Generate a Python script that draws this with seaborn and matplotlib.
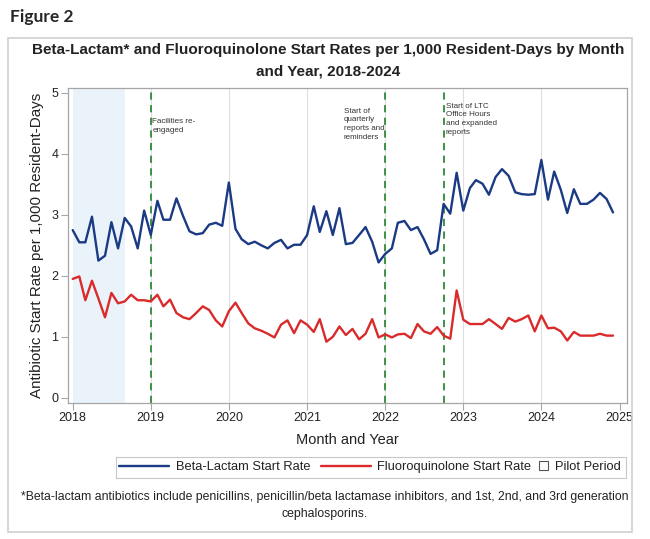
import numpy as np
import pandas as pd
import seaborn as sns
import matplotlib.pyplot as plt
import matplotlib.dates as mdates
from matplotlib.lines import Line2D
from matplotlib.patches import Patch, Rectangle

# monthly start rates per 1,000 resident-days, Jan 2018 - Dec 2024
beta_lactam = [2.75, 2.55, 2.55, 2.97, 2.25, 2.33, 2.88, 2.45, 2.95, 2.81, 2.45, 3.07,
               2.67, 3.23, 2.92, 2.92, 3.27, 2.98, 2.73, 2.68, 2.70, 2.84, 2.87, 2.82,
               3.53, 2.77, 2.60, 2.52, 2.56, 2.50, 2.45, 2.54, 2.59, 2.45, 2.51, 2.51,
               2.67, 3.14, 2.72, 3.06, 2.67, 3.11, 2.52, 2.54, 2.67, 2.80, 2.56, 2.22,
               2.36, 2.45, 2.87, 2.90, 2.75, 2.80, 2.60, 2.36, 2.42, 3.18, 3.02, 3.69,
               3.07, 3.44, 3.57, 3.51, 3.33, 3.62, 3.75, 3.64, 3.37, 3.34, 3.33, 3.34,
               3.90, 3.25, 3.71, 3.41, 3.03, 3.42, 3.18, 3.18, 3.25, 3.36, 3.26, 3.04]
fluoroquinolone = [1.95, 1.99, 1.60, 1.92, 1.63, 1.32, 1.72, 1.55, 1.58, 1.69, 1.60, 1.60,
                   1.58, 1.69, 1.50, 1.61, 1.39, 1.32, 1.29, 1.39, 1.50, 1.44, 1.27, 1.17,
                   1.42, 1.56, 1.39, 1.22, 1.14, 1.10, 1.05, 0.99, 1.20, 1.27, 1.06, 1.27,
                   1.20, 1.08, 1.29, 0.92, 1.00, 1.17, 1.03, 1.13, 0.96, 1.05, 1.29, 0.99,
                   1.04, 0.99, 1.04, 1.05, 0.98, 1.21, 1.09, 1.05, 1.16, 1.02, 0.97, 1.76,
                   1.28, 1.21, 1.21, 1.21, 1.29, 1.21, 1.13, 1.31, 1.25, 1.29, 1.35, 1.09,
                   1.35, 1.14, 1.15, 1.09, 0.94, 1.08, 1.02, 1.02, 1.02, 1.05, 1.02, 1.02]
months = pd.date_range("2018-01-01", periods=len(beta_lactam), freq="MS")

series_names = ["Beta-Lactam Start Rate", "Fluoroquinolone Start Rate"]
event_dates = ["2019-01-01", "2022-01-01", "2022-10-01"]
event_labels = ["Facilities re-\nengaged",
                "Start of\nquarterly\nreports and\nreminders",
                "Start of LTC\nOffice Hours\nand expanded\nreports"]
event_label_x = ["2019-01-08", "2021-06-22", "2022-10-12"]
event_label_y = [4.59, 4.76, 4.84]
pilot_start, pilot_end = "2018-01-01", "2018-09-01"

df = pd.DataFrame({"month": list(months) * 2,
                   "rate": beta_lactam + fluoroquinolone,
                   "series": [series_names[0]] * len(months) + [series_names[1]] * len(months)})

sns.set_theme(style="white")
plt.rcParams['font.family'] = ['Liberation Sans', 'DejaVu Sans']

blue = "#1b3a84"
red = "#d92b2b"
green = "#2f8a3a"
edge = "#a6a6a6"
txt = "#222222"

fig = plt.figure(figsize=(6.5, 5.39), dpi=100)
fig.patches.append(Rectangle((8/650, 1-532/539), 624/650, 494/539, transform=fig.transFigure,
                             fill=False, edgecolor="#d0d0d0", lw=1.2))
fig.text(10/650, 1-17/539, "Figure 2", fontsize=12.5, fontweight="bold", family=["Lato", "DejaVu Sans"],
         va="center", ha="left")
fig.text(0.505, 1-50/539, "Beta-Lactam* and Fluoroquinolone Start Rates per 1,000 Resident-Days by Month",
         fontsize=11, fontweight="bold", ha="center", va="center", color=txt)
fig.text(0.505, 1-71/539, "and Year, 2018-2024", fontsize=11, fontweight="bold", ha="center", va="center",
         color=txt)

ax = fig.add_axes([68/650, 1-402.7/539, (626.7-68)/650, (402.7-88)/539])
ax.axvspan(pd.Timestamp(pilot_start), pd.Timestamp(pilot_end), color="#ebf3fa", lw=0, zorder=0)
for yr in range(2019, 2025):
    ax.axvline(pd.Timestamp(f"{yr}-01-01"), color="#dedede", lw=0.8, zorder=0.5)

sns.lineplot(data=df, x="month", y="rate", hue="series", palette=[blue, red],
             lw=1.7, legend=False, ax=ax, zorder=3)

for d, lx, ly, lab in zip(event_dates, event_label_x, event_label_y, event_labels):
    ax.axvline(pd.Timestamp(d), color=green, lw=1.3, ls=(0, (4, 3)), zorder=2)
    ax.text(pd.Timestamp(lx), ly, lab, fontsize=5.8, color="#333333",
            va="top", ha="left", linespacing=1.35)

ax.set_xlim(pd.Timestamp("2017-12-10"), pd.Timestamp("2025-02-03"))
ax.set_ylim(-0.08, 5.08)
ax.set_yticks([0, 1, 2, 3, 4, 5])
ax.xaxis.set_major_locator(mdates.YearLocator())
ax.xaxis.set_major_formatter(mdates.DateFormatter("%Y"))
ax.tick_params(axis="both", which="major", labelsize=9, length=5, width=0.8, color=edge,
               direction="out", bottom=True, left=True, labelcolor=txt, pad=2)
for s in ax.spines.values():
    s.set_color(edge)
    s.set_linewidth(0.9)
ax.set_xlabel("Month and Year", fontsize=10.5, color=txt, labelpad=6)
ax.set_ylabel("Antibiotic Start Rate per 1,000 Resident-Days", fontsize=10.9, color=txt, labelpad=5)

# legend: two line entries + small square for the pilot period, inside one frame
leg_y = 1 - 467/539
leg_right = 626/650
leg_b = fig.legend([Patch(facecolor="white", edgecolor="#555555", lw=0.8)], ["Pilot Period"],
                   loc="center right", bbox_to_anchor=(leg_right - 3/650, leg_y), fontsize=9.3,
                   frameon=False, handlelength=0.75, handleheight=0.75, handletextpad=0.5,
                   borderpad=0.2, borderaxespad=0)
fig.canvas.draw()
rend = fig.canvas.get_renderer()
bb_b = leg_b.get_window_extent(rend).transformed(fig.transFigure.inverted())
leg_a = fig.legend([Line2D([], [], color=blue, lw=1.7), Line2D([], [], color=red, lw=1.7)], series_names,
                   ncol=2, loc="center right", bbox_to_anchor=(bb_b.x0 - 2/650, leg_y), fontsize=9.3,
                   frameon=False, handlelength=3.9, columnspacing=0.8, handletextpad=0.5,
                   borderpad=0.2, borderaxespad=0)
for lg in (leg_a, leg_b):
    for t in lg.get_texts():
        t.set_color(txt)
fig.canvas.draw()
bb_a = leg_a.get_window_extent(rend).transformed(fig.transFigure.inverted())
fig.patches.append(Rectangle((bb_a.x0, leg_y - 10.5/539), leg_right - bb_a.x0, 21/539,
                             transform=fig.transFigure, fill=False, edgecolor="#c8c8c8", lw=0.8))

fig.text(0.5, 1-497/539, "*Beta-lactam antibiotics include penicillins, penicillin/beta lactamase inhibitors, "
         "and 1st, 2nd, and 3rd generation", fontsize=8.8, ha="center", va="center", color=txt)
fig.text(0.5, 1-514/539, "cephalosporins.", fontsize=8.8, ha="center", va="center", color=txt)

fig.savefig("out.png", dpi=100)
